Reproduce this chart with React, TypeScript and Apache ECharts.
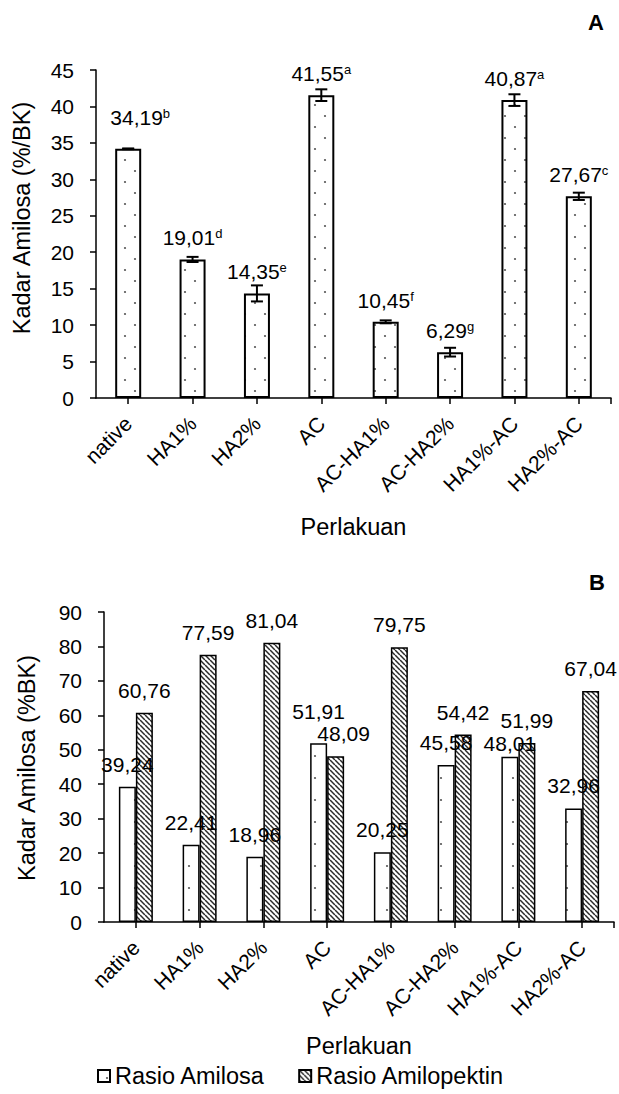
import React, { useEffect, useRef } from 'react';
import * as echarts from 'echarts';

const categories = ['native', 'HA1%', 'HA2%', 'AC', 'AC-HA1%', 'AC-HA2%', 'HA1%-AC', 'HA2%-AC'];
const amilosaA = [34.19, 19.01, 14.35, 41.55, 10.45, 6.29, 40.87, 27.67];
const errorA = [0.05, 0.35, 1.1, 0.8, 0.2, 0.6, 0.8, 0.5];
const lettersA = ['b', 'd', 'e', 'a', 'f', 'g', 'a', 'c'];
const rasioAmilosa = [39.24, 22.41, 18.96, 51.91, 20.25, 45.58, 48.01, 32.96];
const rasioAmilopektin = [60.76, 77.59, 81.04, 48.09, 79.75, 54.42, 51.99, 67.04];
const seriesNamesB = ['Rasio Amilosa', 'Rasio Amilopektin'];
const yAxisA = { min: 0, max: 45, interval: 5 };
const yAxisB = { min: 0, max: 90, interval: 10 };
const yTitleA = 'Kadar Amilosa (%/BK)';
const yTitleB = 'Kadar Amilosa (%BK)';

// label nudges (styling only)
const labelOffsetA: Record<number, number[]> = { 0: [12, -10] };
const labelOffsetAmilosa: Record<number, number[]> = { 3: [0, -9], 6: [0, 9] };
const labelOffsetAmilopektin: Record<number, number[]> = { 3: [8, 0] };

const FONT = '"Liberation Sans", Arial, Helvetica, sans-serif';
const fmt = (v: number) => v.toFixed(2).replace('.', ',');

const GRID_A = { left: 96, top: 70, width: 515, height: 328 };
const GRID_B = { left: 104, top: 612, width: 510, height: 310 };

function makeDotTile(w: number, h: number, dots: number[][]) {
  const c = document.createElement('canvas');
  c.width = w;
  c.height = h;
  const ctx = c.getContext('2d')!;
  ctx.fillStyle = '#ffffff';
  ctx.fillRect(0, 0, w, h);
  ctx.fillStyle = '#555555';
  dots.forEach(([x, y]) => {
    ctx.beginPath();
    ctx.arc(x, y, 1.1, 0, Math.PI * 2);
    ctx.fill();
  });
  return c;
}

function makeHatchTile(s: number) {
  const c = document.createElement('canvas');
  c.width = s;
  c.height = s;
  const ctx = c.getContext('2d')!;
  ctx.fillStyle = '#ffffff';
  ctx.fillRect(0, 0, s, s);
  ctx.strokeStyle = '#2a2a2a';
  ctx.lineWidth = 1.5;
  [-s, 0, s].forEach((x0) => {
    ctx.beginPath();
    ctx.moveTo(x0, 0);
    ctx.lineTo(x0 + s, s);
    ctx.stroke();
  });
  return c;
}

export default function App() {
  const ref = useRef<HTMLDivElement>(null);

  useEffect(() => {
    if (!ref.current) return;
    const chart = echarts.init(ref.current, undefined, { renderer: 'svg' });

    const dotA = makeDotTile(20, 22, [[5, 6], [15, 17]]);
    const dotB = makeDotTile(18, 22, [[9, 8]]);
    const hatch = makeHatchTile(5);
    const dotPatternA = { image: dotA, repeat: 'repeat', imageWidth: 20, imageHeight: 22 };
    const dotPatternB = { image: dotB, repeat: 'repeat', imageWidth: 18, imageHeight: 22 };
    const hatchPattern = { image: hatch, repeat: 'repeat', imageWidth: 5, imageHeight: 5 };

    const axisLineStyle = { color: '#000', width: 1.5 };
    const textBase = { color: '#000', fontFamily: FONT };

    const xAxisCommon = (gridIndex: number, nameGap: number) => ({
      gridIndex,
      type: 'category',
      data: categories,
      axisLine: { show: true, lineStyle: axisLineStyle },
      axisTick: { show: true, alignWithLabel: true, length: 6, lineStyle: axisLineStyle },
      axisLabel: {
        ...textBase,
        interval: 0,
        rotate: 45,
        fontSize: 21,
        margin: 22,
        align: 'right',
        verticalAlign: 'middle',
      },
      splitLine: { show: false },
      name: 'Perlakuan',
      nameLocation: 'middle',
      nameGap,
      nameTextStyle: { ...textBase, fontSize: 23.5 },
    });

    const yAxisCommon = (gridIndex: number, cfg: any) => ({
      gridIndex,
      type: 'value',
      min: cfg.min,
      max: cfg.max,
      interval: cfg.interval,
      axisLine: { show: true, lineStyle: axisLineStyle },
      axisTick: { show: true, length: 6, lineStyle: axisLineStyle },
      axisLabel: { ...textBase, fontSize: 21, margin: 22 },
      splitLine: { show: false },
    });

    const endTick = (g: any) => ({
      type: 'line',
      shape: {
        x1: g.left + g.width,
        y1: g.top + g.height,
        x2: g.left + g.width,
        y2: g.top + g.height + 6,
      },
      style: { stroke: '#000', lineWidth: 1.5 },
    });

    const option: any = {
      animation: false,
      backgroundColor: '#ffffff',
      grid: [GRID_A, GRID_B],
      xAxis: [xAxisCommon(0, 117), xAxisCommon(1, 112)],
      yAxis: [yAxisCommon(0, yAxisA), yAxisCommon(1, yAxisB)],
      legend: {
        data: seriesNamesB,
        left: 97,
        top: 1064,
        padding: 0,
        icon: 'rect',
        itemWidth: 12,
        itemHeight: 12,
        itemGap: 33,
        textStyle: { ...textBase, fontSize: 23.5 },
      },
      graphic: [
        { type: 'text', right: 15, top: 11, style: { text: 'A', font: `bold 22px ${FONT}`, fill: '#000' } },
        { type: 'text', right: 14, top: 571, style: { text: 'B', font: `bold 22px ${FONT}`, fill: '#000' } },
        {
          type: 'text',
          x: 22,
          y: 218,
          rotation: Math.PI / 2,
          style: { text: yTitleA, font: `23.5px ${FONT}`, fill: '#000', align: 'center', verticalAlign: 'middle' },
        },
        {
          type: 'text',
          x: 27,
          y: 768,
          rotation: Math.PI / 2,
          style: { text: yTitleB, font: `23.5px ${FONT}`, fill: '#000', align: 'center', verticalAlign: 'middle' },
        },
        endTick(GRID_A),
        endTick(GRID_B),
      ],
      series: [
        {
          type: 'bar',
          name: 'Amilosa',
          xAxisIndex: 0,
          yAxisIndex: 0,
          barWidth: 26,
          itemStyle: { color: dotPatternA, borderColor: '#000', borderWidth: 2 },
          data: amilosaA.map((v, i) => ({
            value: v,
            label: labelOffsetA[i] ? { offset: labelOffsetA[i] } : undefined,
          })),
          label: {
            show: true,
            position: 'top',
            distance: 11,
            formatter: (p: any) => `{v|${fmt(p.value)}}{s|${lettersA[p.dataIndex]}}`,
            rich: {
              v: { ...textBase, fontSize: 21 },
              s: { ...textBase, fontSize: 13, verticalAlign: 'top' },
            },
          },
        },
        {
          type: 'custom',
          name: 'error',
          xAxisIndex: 0,
          yAxisIndex: 0,
          silent: true,
          z: 10,
          data: amilosaA.map((v, i) => [i, v - errorA[i], v + errorA[i]]),
          renderItem: (params: any, api: any) => {
            const lo = api.coord([api.value(0), api.value(1)]);
            const hi = api.coord([api.value(0), api.value(2)]);
            const x = lo[0];
            const hw = 6;
            const st = { stroke: '#000', lineWidth: 2 };
            return {
              type: 'group',
              children: [
                { type: 'line', shape: { x1: x, y1: lo[1], x2: x, y2: hi[1] }, style: st },
                { type: 'line', shape: { x1: x - hw, y1: lo[1], x2: x + hw, y2: lo[1] }, style: st },
                { type: 'line', shape: { x1: x - hw, y1: hi[1], x2: x + hw, y2: hi[1] }, style: st },
              ],
            };
          },
        },
        {
          type: 'bar',
          name: seriesNamesB[0],
          xAxisIndex: 1,
          yAxisIndex: 1,
          barWidth: 17,
          barGap: '0%',
          itemStyle: { color: dotPatternB, borderColor: '#000', borderWidth: 1.5 },
          data: rasioAmilosa.map((v, i) => ({
            value: v,
            label: labelOffsetAmilosa[i] ? { offset: labelOffsetAmilosa[i] } : undefined,
          })),
          label: {
            show: true,
            position: 'top',
            distance: 12,
            ...textBase,
            fontSize: 21,
            formatter: (p: any) => fmt(p.value),
          },
        },
        {
          type: 'bar',
          name: seriesNamesB[1],
          xAxisIndex: 1,
          yAxisIndex: 1,
          barWidth: 17,
          barGap: '0%',
          itemStyle: { color: hatchPattern, borderColor: '#000', borderWidth: 1.5 },
          data: rasioAmilopektin.map((v, i) => ({
            value: v,
            label: labelOffsetAmilopektin[i] ? { offset: labelOffsetAmilopektin[i] } : undefined,
          })),
          label: {
            show: true,
            position: 'top',
            distance: 12,
            ...textBase,
            fontSize: 21,
            formatter: (p: any) => fmt(p.value),
          },
        },
      ],
    };

    chart.setOption(option);
    return () => chart.dispose();
  }, []);

  return (
    <div
      ref={ref}
      style={{ position: 'absolute', left: 0, top: 0, width: 619, height: 1094, background: '#fff' }}
    />
  );
}
